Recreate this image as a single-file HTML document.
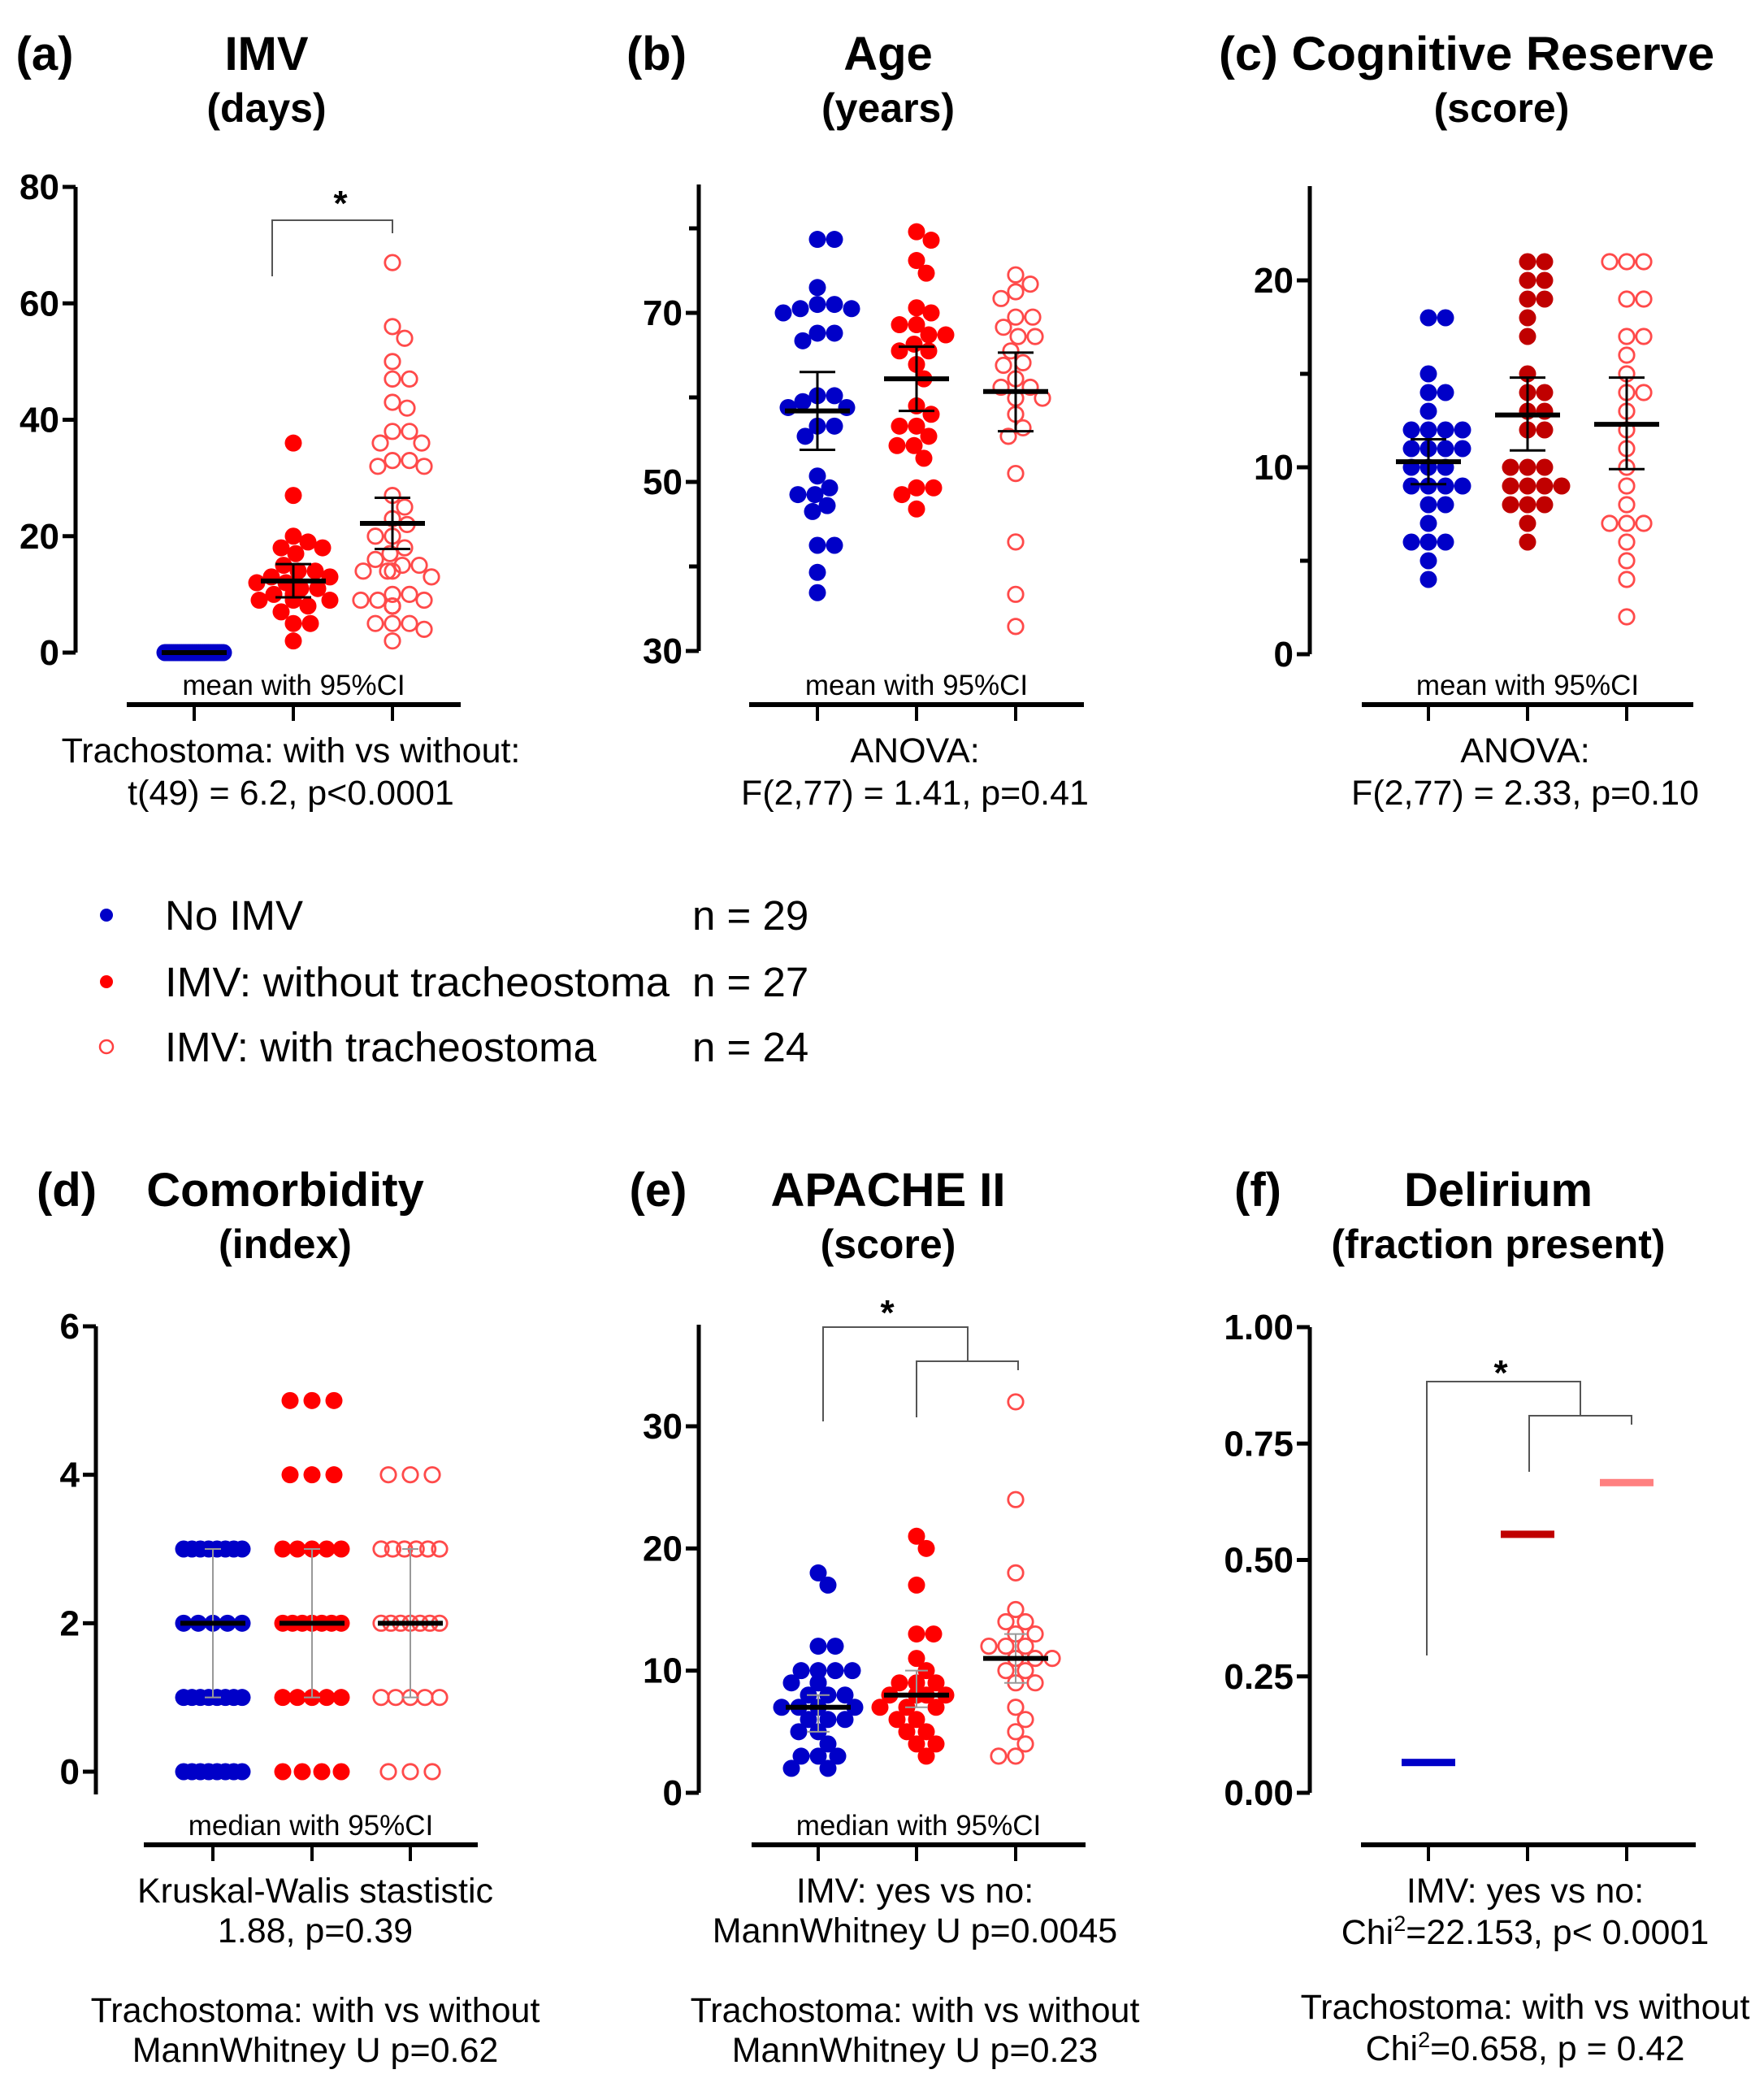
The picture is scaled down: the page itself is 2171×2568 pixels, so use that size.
<!DOCTYPE html>
<html><head><meta charset="utf-8"><style>
html,body{margin:0;padding:0;background:#fff;}
svg{display:block;font-family:"Liberation Sans",sans-serif;}
.t{font-weight:bold;font-size:58px;text-anchor:middle;}
.tk{font-weight:bold;font-size:44px;text-anchor:end;}
.st{font-size:43px;text-anchor:middle;}
.sm{font-size:35px;text-anchor:middle;}
.lg{font-size:51px;}
</style></head><body>
<svg id="fig" width="2171" height="2568" viewBox="0 0 2171 2568" xmlns="http://www.w3.org/2000/svg">
<g id="texts">
 <text class="t" x="55" y="86">(a)</text>
 <text class="t" x="328" y="86">IMV</text>
 <text class="t" x="328" y="150" style="font-size:50px">(days)</text>
 <text class="t" x="808" y="86">(b)</text>
 <text class="t" x="1093" y="86">Age</text>
 <text class="t" x="1093" y="150" style="font-size:50px">(years)</text>
 <text class="t" x="1805" y="86" textLength="610" lengthAdjust="spacingAndGlyphs">(c) Cognitive Reserve</text>
 <text class="t" x="1848" y="150" style="font-size:50px">(score)</text>
 <text class="st" x="358" y="938">Trachostoma: with vs without:</text>
 <text class="st" x="358" y="990">t(49) = 6.2, p&lt;0.0001</text>
 <text class="st" x="1126" y="938">ANOVA:</text>
 <text class="st" x="1126" y="990">F(2,77) = 1.41, p=0.41</text>
 <text class="st" x="1877" y="938">ANOVA:</text>
 <text class="st" x="1877" y="990">F(2,77) = 2.33, p=0.10</text>

 <circle cx="131" cy="1126" r="8" fill="#0000c8"/>
 <circle cx="131" cy="1208" r="8" fill="#ff0000"/>
 <circle cx="131" cy="1288" r="8" fill="none" stroke="#ff4040" stroke-width="2.5"/>
 <text class="lg" x="203" y="1144">No IMV</text>
 <text class="lg" x="203" y="1226" textLength="621" lengthAdjust="spacingAndGlyphs">IMV: without tracheostoma</text>
 <text class="lg" x="203" y="1306">IMV: with tracheostoma</text>
 <text class="lg" x="852" y="1144">n = 29</text>
 <text class="lg" x="852" y="1226">n = 27</text>
 <text class="lg" x="852" y="1306">n = 24</text>

 <text class="t" x="82" y="1484">(d)</text>
 <text class="t" x="351" y="1484">Comorbidity</text>
 <text class="t" x="351" y="1548" style="font-size:50px">(index)</text>
 <text class="t" x="810" y="1484">(e)</text>
 <text class="t" x="1093" y="1484">APACHE II</text>
 <text class="t" x="1093" y="1548" style="font-size:50px">(score)</text>
 <text class="t" x="1548" y="1484">(f)</text>
 <text class="t" x="1844" y="1484">Delirium</text>
 <text class="t" x="1844" y="1548" style="font-size:50px">(fraction present)</text>

 <text class="st" x="388" y="2341">Kruskal-Walis stastistic</text>
 <text class="st" x="388" y="2390">1.88, p=0.39</text>
 <text class="st" x="388" y="2488">Trachostoma: with vs without</text>
 <text class="st" x="388" y="2537">MannWhitney U p=0.62</text>
 <text class="st" x="1126" y="2341">IMV: yes vs no:</text>
 <text class="st" x="1126" y="2390">MannWhitney U p=0.0045</text>
 <text class="st" x="1126" y="2488">Trachostoma: with vs without</text>
 <text class="st" x="1126" y="2537">MannWhitney U p=0.23</text>
 <text class="st" x="1877" y="2341">IMV: yes vs no:</text>
 <text class="st" x="1877" y="2392">Chi<tspan dy="-16" font-size="27">2</tspan><tspan dy="16">=22.153, p&lt; 0.0001</tspan></text>
 <text class="st" x="1877" y="2484">Trachostoma: with vs without</text>
 <text class="st" x="1877" y="2535">Chi<tspan dy="-16" font-size="27">2</tspan><tspan dy="16">=0.658, p = 0.42</tspan></text>
</g>
<g id="plots"></g>
</svg>
<script>
// ---- data ----
const groupNames = ["No IMV", "IMV without tracheostoma", "IMV with tracheostoma"];
const imvNo = [0,0,0,0,0,0,0,0,0,0,0,0,0,0,0,0,0,0,0,0,0,0,0,0,0,0,0,0,0];
const imvWithout = [36,27,20,19,18,18,17,15,14,14,13,13,12,12,11,11,10,10,10,9,9,9,8,7,5,5,2];
const imvWith = [67,56,54,50,47,47,43,42,38,38,36,36,33,33,32,32,27,25,23,22,20,20,18,17,16,15,15,14,14,14,13,10,10,9,9,9,8,8,8,8,8,5,5,5,4,2];
const imvMean = [0, 12.3, 22.2];
const imvCILow = [0, 9.5, 17.8];
const imvCIHigh = [0, 15.2, 26.6];

const ageNo = [78.7,78.7,73,71,71,70.5,70.5,70,67.6,67.6,66.7,60.2,60.2,59.5,58.8,58.8,56.6,56.6,55.4,50.7,49.3,48.5,48.5,47.2,46.5,42.5,42.5,39.3,36.9];
const ageWithout = [79.6,78.6,76.2,74.7,70.6,70,68.6,68.6,67.4,67.4,66.3,65.5,65.5,63.9,62.2,59,58,56.6,56.6,55.4,54.3,54.3,52.8,49.3,49.3,48.5,46.8];
const ageWith = [74.5,73.4,72.5,71.7,69.5,69.5,68.3,67.2,67.2,65.5,64.1,63.8,62.2,61.2,61.2,59.9,59.9,58,56.4,55.4,51,42.9,36.7,32.9];
const ageMean = [58.4, 62.2, 60.7];
const ageCILow = [53.8, 58.4, 56];
const ageCIHigh = [63, 66, 65.3];

const crNo = [18,18,15,14,14,13,12,12,12,12,11,11,11,11,10,10,10,9,9,9,9,8,8,7,6,6,6,5,4];
const crWithout = [21,21,20,20,19,19,18,17,15,14,14,13,13,12,12,10,10,10,9,9,9,9,8,8,8,7,6];
const crWith = [21,21,21,19,19,17,17,16,15,14,14,13,12,11,10,9,8,7,7,7,6,5,4,2];
const crMean = [10.3, 12.8, 12.3];
const crCILow = [9.1, 10.9, 9.9];
const crCIHigh = [11.5, 14.8, 14.8];

const comNo = [3,3,3,3,3,3,3,3,2,2,2,2,2,1,1,1,1,1,1,1,1,0,0,0,0,0,0,0,0];
const comWithout = [5,5,5,4,4,4,3,3,3,3,3,2,2,2,2,2,2,2,1,1,1,1,1,0,0,0,0];
const comWith = [4,4,4,3,3,3,3,3,3,2,2,2,2,2,2,2,1,1,1,1,1,0,0,0];
const comMedian = [2, 2, 2];
const comCILow = [1, 1, 1];
const comCIHigh = [3, 3, 3];

const apNo = [18,17,12,12,10,10,10,10,9,9,9,8,8,8,7,7,7,7,6,6,6,5,5,4,3,3,3,2,2];
const apWithout = [21,20,17,13,13,11,10,9,9,9,8,8,8,8,8,8,8,7,7,7,6,6,5,5,4,4,3];
const apWith = [32,24,18,15,14,14,13,13,12,12,12,11,11,11,10,10,9,9,7,6,5,4,3,3];
const apMedian = [7, 8, 11];
const apCILow = [5, 7, 9];
const apCIHigh = [8, 10, 13];

const delFraction = [0.066, 0.556, 0.667];

const ticksA = [0,20,40,60,80], tickLabelsA = ["0","20","40","60","80"];
const ticksB = [30,50,70], tickLabelsB = ["30","50","70"], minorB = [40,60,80];
const ticksC = [0,10,20], tickLabelsC = ["0","10","20"], minorC = [5,15];
const ticksD = [0,2,4,6], tickLabelsD = ["0","2","4","6"];
const ticksE = [0,10,20,30], tickLabelsE = ["0","10","20","30"];
const ticksF = [0,0.25,0.5,0.75,1], tickLabelsF = ["0.00","0.25","0.50","0.75","1.00"];

// ---- rendering ----
const NS = "http://www.w3.org/2000/svg";
const root = document.getElementById("plots");
function mk(tag, attrs, parent){
  const e = document.createElementNS(NS, tag);
  for (const k in attrs) e.setAttribute(k, attrs[k]);
  (parent||root).appendChild(e);
  return e;
}
const BLUE="#0000c8", RED="#ff0000", PINK="#ff4a4a", DRED="#c00000";
const R = 10.5;

function makeScale(v0, p0, v1, p1){ return v => p0 + (v - v0) * (p1 - p0) / (v1 - v0); }

function axes(p){
  const g = mk("g", {});
  
  
  const yl = mk("line", {x1:p.ax, x2:p.ax, y1:p.yTop, y2:p.yBot, stroke:"#000", "stroke-width":5}, g);
  
  
  p.ticks.forEach((t,i) => {
    const y = p.y(t);
    mk("line", {x1:p.ax-16, x2:p.ax, y1:y, y2:y, stroke:"#000", "stroke-width":5}, g);
    const tx = mk("text", {x:p.ax-20, y:y+15, class:"tk"}, g);
    tx.textContent = p.labels[i];
    
    
  });
  (p.minor||[]).forEach(t => {
    const y = p.y(t);
    mk("line", {x1:p.ax-12, x2:p.ax, y1:y, y2:y, stroke:"#000", "stroke-width":5}, g);
  });
  const xl = mk("line", {x1:p.xl0, x2:p.xl1, y1:p.xAxisY, y2:p.xAxisY, stroke:"#000", "stroke-width":6}, g);
  
  
  p.gx.forEach(x => mk("line", {x1:x, x2:x, y1:p.xAxisY, y2:p.xAxisY+20, stroke:"#000", "stroke-width":4}, g));
  if (p.note){
    const n = mk("text", {x:(p.xl0+p.xl1)/2, y:p.xAxisY-12, class:"sm"}, g);
    n.textContent = p.note;
    
    
  }
}

function swarm(vals, y, cx, maxHalf){
  const pts = [];
  const order = vals.map((v,i)=>i).sort((a,b)=>vals[b]-vals[a]);
  const D = 2*R*0.9;
  order.forEach(i => {
    const py = y(vals[i]);
    let best = 0, found = false;
    for (let k=0; k<40 && !found; k++){
      const cands = k===0 ? [0] : [k*3, -k*3];
      for (const off of cands){
        if (Math.abs(off) > maxHalf) continue;
        if (pts.every(p => Math.hypot(p.x-(cx+off), p.y-py) >= D)){ best = off; found = true; break; }
      }
    }
    pts.push({x:cx+best, y:py, v:vals[i]});
  });
  return pts;
}

function rows(vals, y, cx, maxHalf){
  const counts = {};
  vals.forEach(v => counts[v] = (counts[v]||0)+1);
  const pts = [];
  Object.keys(counts).forEach(k => {
    const n = counts[k];
    const sp = n>1 ? Math.min(2*R+6, 2*maxHalf/(n-1)) : 0;
    for (let j=0;j<n;j++) pts.push({x: cx + (j-(n-1)/2)*sp, y: y(+k)});
  });
  return pts;
}

function dots(pts, color, filled, name){
  const g = mk("g", {});
  
  
  pts.forEach(p => {
    const c = filled ? mk("circle", {cx:p.x, cy:p.y, r:R, fill:color}, g)
                     : mk("circle", {cx:p.x, cy:p.y, r:R-1.3, fill:"none", stroke:color, "stroke-width":2.8}, g);
    
    
  });
}

function meanCI(p, centers, lo, hi, name, ciColor, ciW, capW){
  const g = mk("g", {});
  
  
  p.gx.forEach((x,i) => {
    if (hi[i] > lo[i]){
      mk("line", {x1:x, x2:x, y1:p.y(lo[i]), y2:p.y(hi[i]), stroke:ciColor, "stroke-width":ciW}, g);
      mk("line", {x1:x-capW, x2:x+capW, y1:p.y(lo[i]), y2:p.y(lo[i]), stroke:ciColor, "stroke-width":ciW}, g);
      mk("line", {x1:x-capW, x2:x+capW, y1:p.y(hi[i]), y2:p.y(hi[i]), stroke:ciColor, "stroke-width":ciW}, g);
    }
    mk("line", {x1:x-40, x2:x+40, y1:p.y(centers[i]), y2:p.y(centers[i]), stroke:"#000", "stroke-width":6}, g);
  });
}

function bracket(pts, name){
  const g = mk("g", {});
  
  
  mk("polyline", {points:pts, fill:"none", stroke:"#555", "stroke-width":2}, g);
}
function star(x,y,name){
  const s = mk("text", {x:x, y:y, "font-size":44, "font-weight":"bold", "text-anchor":"middle"});
  s.textContent = "*";
  
  
}

// Panel a
const pA = {name:"panel-a", ax:93, yTop:230, yBot:803, y:makeScale(0,803,80,230), ticks:ticksA, labels:tickLabelsA,
  xl0:156, xl1:567, xAxisY:867, gx:[239,361,483], note:"mean with 95%CI"};
axes(pA);
dots(rows(imvNo, pA.y, pA.gx[0], 36), BLUE, true, "panel-a-no-imv-points");
dots(swarm(imvWithout, pA.y, pA.gx[1], 45), RED, true, "panel-a-without-trach-points");
dots(swarm(imvWith, pA.y, pA.gx[2], 48), PINK, false, "panel-a-with-trach-points");
meanCI(pA, imvMean, imvCILow, imvCIHigh, "panel-a-mean-ci", "#000", 3, 22);
bracket("335,340 335,271 483,271 483,287", "panel-a-significance-bracket");
star(419, 265, "panel-a-significance-star");

// Panel b
const pB = {name:"panel-b", ax:860, yTop:227, yBot:801, y:makeScale(30,801,70,385), ticks:ticksB, labels:tickLabelsB, minor:minorB,
  xl0:922, xl1:1334, xAxisY:867, gx:[1006,1128,1250], note:"mean with 95%CI"};
axes(pB);
dots(swarm(ageNo, pB.y, pB.gx[0], 45), BLUE, true, "panel-b-no-imv-points");
dots(swarm(ageWithout, pB.y, pB.gx[1], 45), RED, true, "panel-b-without-trach-points");
dots(swarm(ageWith, pB.y, pB.gx[2], 45), PINK, false, "panel-b-with-trach-points");
meanCI(pB, ageMean, ageCILow, ageCIHigh, "panel-b-mean-ci", "#000", 3, 22);

// Panel c
const pC = {name:"panel-c", ax:1612, yTop:229, yBot:805, y:makeScale(0,805,20,345), ticks:ticksC, labels:tickLabelsC, minor:minorC,
  xl0:1676, xl1:2084, xAxisY:867, gx:[1758,1880,2002], note:"mean with 95%CI"};
axes(pC);
dots(swarm(crNo, pC.y, pC.gx[0], 45), BLUE, true, "panel-c-no-imv-points");
dots(swarm(crWithout, pC.y, pC.gx[1], 45), DRED, true, "panel-c-without-trach-points");
dots(swarm(crWith, pC.y, pC.gx[2], 45), PINK, false, "panel-c-with-trach-points");
meanCI(pC, crMean, crCILow, crCIHigh, "panel-c-mean-ci", "#000", 3, 22);

// Panel d
const pD = {name:"panel-d", ax:118, yTop:1632, yBot:2208, y:makeScale(0,2180,6,1632), ticks:ticksD, labels:tickLabelsD,
  xl0:177, xl1:588, xAxisY:2270, gx:[262,384,505], note:"median with 95%CI"};
axes(pD);
dots(rows(comNo, pD.y, pD.gx[0], 36), BLUE, true, "panel-d-no-imv-points");
dots(rows(comWithout, pD.y, pD.gx[1], 36), RED, true, "panel-d-without-trach-points");
dots(rows(comWith, pD.y, pD.gx[2], 36), PINK, false, "panel-d-with-trach-points");
meanCI(pD, comMedian, comCILow, comCIHigh, "panel-d-median-ci", "#999", 2, 10);

// Panel e
const pE = {name:"panel-e", ax:860, yTop:1630, yBot:2206, y:makeScale(0,2206,30,1755), ticks:ticksE, labels:tickLabelsE,
  xl0:925, xl1:1336, xAxisY:2270, gx:[1007,1128,1250], note:"median with 95%CI"};
axes(pE);
dots(swarm(apNo, pE.y, pE.gx[0], 45), BLUE, true, "panel-e-no-imv-points");
dots(swarm(apWithout, pE.y, pE.gx[1], 45), RED, true, "panel-e-without-trach-points");
dots(swarm(apWith, pE.y, pE.gx[2], 45), PINK, false, "panel-e-with-trach-points");
meanCI(pE, apMedian, apCILow, apCIHigh, "panel-e-median-ci", "#999", 2, 14);
bracket("1013,1749 1013,1633 1191,1633 1191,1675", "panel-e-bracket-imv");
bracket("1128,1744 1128,1675 1253,1675 1253,1686", "panel-e-bracket-trach");
star(1092, 1630, "panel-e-significance-star");

// Panel f
const pF = {name:"panel-f", ax:1612, yTop:1633, yBot:2206, y:makeScale(0,2206,1,1633), ticks:ticksF, labels:tickLabelsF,
  xl0:1675, xl1:2087, xAxisY:2270, gx:[1758,1880,2002], note:""};
axes(pF);
const fColors = [BLUE, DRED, "#ff8080"];
delFraction.forEach((v,i) => {
  const b = mk("rect", {x:pF.gx[i]-33, y:pF.y(v)-4, width:66, height:9, fill:fColors[i]});
  
  
});
bracket("1756,2037 1756,1700 1945,1700 1945,1742", "panel-f-bracket-imv");
bracket("1882,1811 1882,1742 2008,1742 2008,1753", "panel-f-bracket-trach");
star(1847, 1704, "panel-f-significance-star");
</script>
</body></html>
